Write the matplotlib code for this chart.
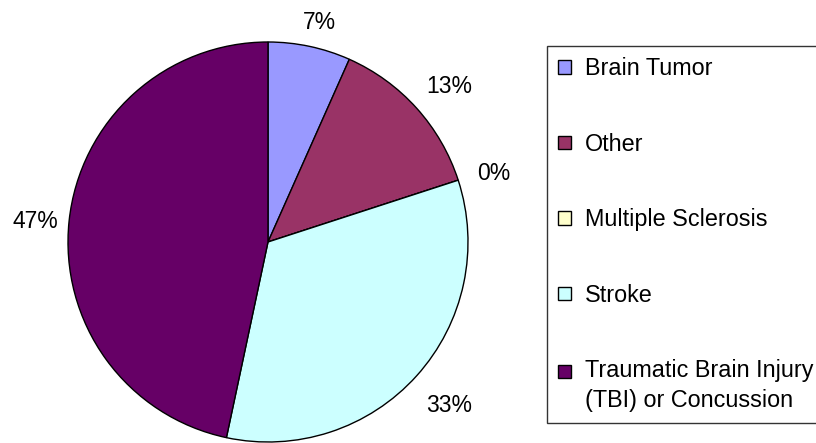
import numpy as np
import matplotlib.pyplot as plt

plt.rcParams['font.family'] = ['Liberation Sans', 'DejaVu Sans']

# 数据（15 位受访者）
categories = ['Brain Tumor', 'Other', 'Multiple Sclerosis', 'Stroke',
              'Traumatic Brain Injury\n(TBI) or Concussion']
counts = [1, 2, 0, 5, 7]
colors = ['#9999FF', '#993366', '#FFFFCC', '#CCFFFF', '#660066']

fig = plt.figure(figsize=(8.16, 4.43), dpi=100)
ax = fig.add_axes([68 / 816, 1 / 443, 400 / 816, 400 / 443])

wedges, texts, autotexts = ax.pie(
    counts, colors=colors, startangle=90, counterclock=False,
    autopct='%1.0f%%', pctdistance=1.1, radius=1.0,
    wedgeprops={'edgecolor': 'black', 'linewidth': 1.0},
    textprops={'fontsize': 16.5, 'color': 'black'})
ax.set_xlim(-1, 1)
ax.set_ylim(-1, 1)
ax.set_aspect('equal')
ax.axis('off')

# 像 Excel 一样：标签外框离饼边缘保持固定距离
fig.canvas.draw()
renderer = fig.canvas.get_renderer()
px_per_unit = ax.transData.transform((1, 0))[0] - ax.transData.transform((0, 0))[0]
for w, t in zip(wedges, autotexts):
    ang = np.deg2rad((w.theta1 + w.theta2) / 2)
    bb = t.get_window_extent(renderer)
    hw = bb.width / 2 / px_per_unit
    hh = bb.height / 2 / px_per_unit
    r = 1.07 + hw * abs(np.cos(ang)) + hh * abs(np.sin(ang))
    t.set_position((r * np.cos(ang) + 0.02, r * np.sin(ang) - 0.02))
    t.set_ha('center')
    t.set_va('center')

leg_fs = 16.8
line_sp = 1.38
leg = fig.legend(wedges, categories, loc='upper left',
                 bbox_to_anchor=(547 / 816, 1 - 46 / 443, 290 / 816, 0),
                 mode='expand',
                 frameon=True, fancybox=False, fontsize=leg_fs,
                 handlelength=0.55, handleheight=0.5, handletextpad=0.6,
                 labelspacing=2.25, borderpad=0.48, borderaxespad=0)
leg.get_frame().set_edgecolor('black')
leg.get_frame().set_linewidth(1.0)
for t in leg.get_texts():
    t.set_linespacing(line_sp)

# 两行的图例项：色块对齐第一行
last = leg.legend_handles[-1]
last.set_y(last.get_y() + leg_fs * line_sp / 2 * 0.92)

plt.savefig('out.png', dpi=100)
